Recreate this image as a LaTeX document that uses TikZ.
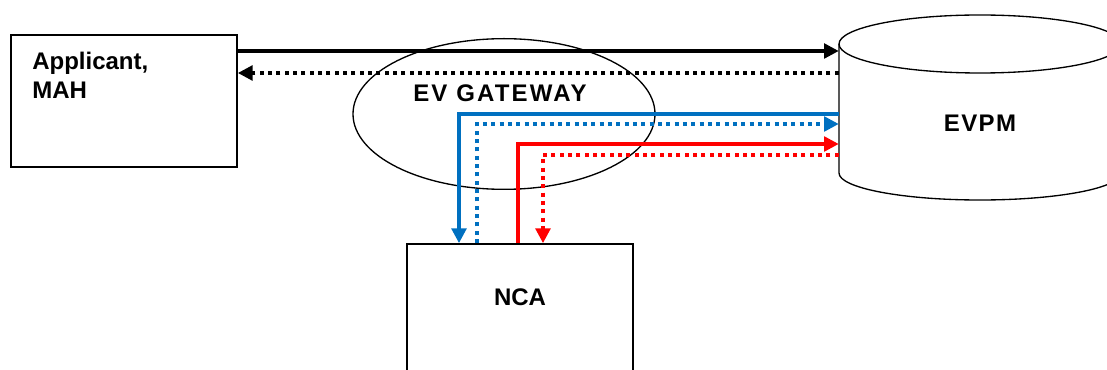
\documentclass[tikz,border=0pt]{standalone}
\usepackage{fontspec}
\setmainfont{Liberation Sans}
\usetikzlibrary{arrows.meta,shapes.geometric}
\definecolor{evblue}{RGB}{0,112,192}
\begin{document}
\begin{tikzpicture}
[x=0.75pt, y=-0.75pt,
 font=\fontsize{18}{21.5}\selectfont\bfseries,
 box/.style={rectangle, draw=black, line width=1.3pt, inner sep=0pt},
 flow/.style={line width=2.5pt, -{Triangle[length=11pt,width=11pt]}},
 dots/.style={dash pattern=on 3pt off 3.25pt}]
\useasboundingbox (0,0) rectangle (1107,370);

% parties
\node[box, minimum width=169.5pt, minimum height=99pt] (app) at (124,101) {};
\node[anchor=north west, align=left, inner sep=0pt] (applabel) at (32,52) {Applicant,\\MAH};
\node[box, minimum width=169.5pt, minimum height=102pt] (nca) at (520,312) {};
\node[inner sep=0pt] (ncalabel) at (520,297) {NCA};

% gateway
\node[draw, ellipse, line width=1pt, inner sep=0pt, minimum width=226.5pt, minimum height=113pt] (gateway) at (504,114) {};
\node[inner sep=0pt] (gatewaylabel) at (500,93) {\addfontfeature{LetterSpace=9}EV GATEWAY};

% database
\draw[line width=1pt] (980,44) ellipse [x radius=141, y radius=29];
\draw[line width=1pt] (839,44) -- (839,173) arc[start angle=180, end angle=0, x radius=141, y radius=27] -- (1121,44);
\node[inner sep=0pt, minimum width=211.5pt, minimum height=97pt] (evpm) at (980,108) {};
\node[inner sep=0pt] (evpmlabel) at (980,123) {\addfontfeature{LetterSpace=6}EVPM};

% messages
\draw[flow] (app.east |- 0,51) -- (evpm.west |- 0,51);
\draw[flow, dots] (evpm.west |- 0,73) -- (app.east |- 0,73);
\draw[flow, evblue] (evpm.west |- 0,114) -| (459,0 |- nca.north);
\draw[flow, evblue, dots] (477,0 |- nca.north) |- (evpm.west |- 0,124);
\draw[flow, red] (518,0 |- nca.north) |- (evpm.west |- 0,144);
\draw[flow, red, dots] (evpm.west |- 0,155) -| (543,0 |- nca.north);

\end{tikzpicture}
\end{document}
